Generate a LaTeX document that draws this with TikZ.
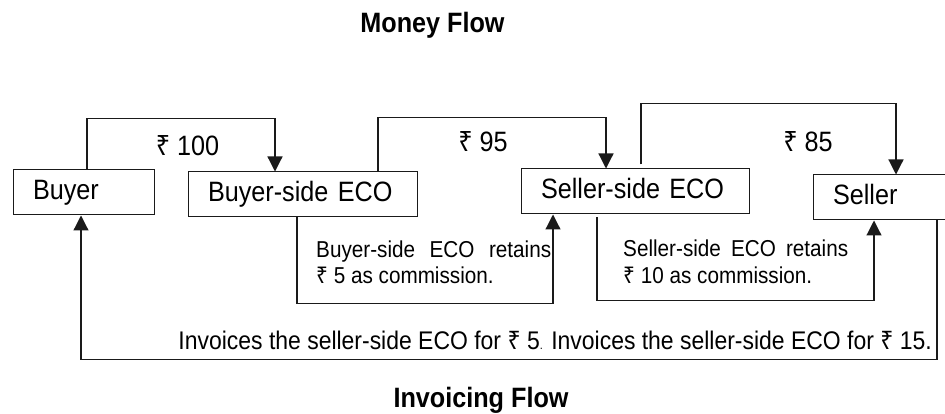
\documentclass[tikz,border=0pt]{standalone}
\usepackage{fontspec}
\setmainfont[FakeStretch=0.9]{Liberation Sans}
\newfontfamily\rupeefont[FakeStretch=0.9]{Noto Sans}
\newcommand{\rupee}{{\rupeefont ₹}}
\usetikzlibrary{arrows.meta}
\definecolor{ink}{HTML}{1A1A1A}
\tikzset{
  party-box/.style={draw=ink, line width=1pt, rectangle, inner xsep=20pt, inner ysep=0pt,
    minimum height=45pt, text height=20pt, text depth=6pt, align=left,
    font=\fontsize{28}{32}\selectfont},
  amount-label/.style={inner sep=0pt, font=\fontsize{28}{32}\selectfont},
  note-text/.style={anchor=base west, inner sep=0pt, align=justify,
    font=\fontsize{23}{27}\selectfont},
  flow-path/.style={draw=ink, line width=1.2pt, -{Triangle[length=15pt, width=15pt]}},
  flow-title/.style={anchor=base, inner sep=0pt, font=\fontsize{28}{32}\selectfont\bfseries},
}

\begin{document}
\begin{tikzpicture}[x=1pt, y=-1pt]
\useasboundingbox (0, 0) rectangle (945, 414);
\node[flow-title] at (432.5, 33) (money title) {Money Flow};
\node[party-box, text width=101pt] at (83.5, 192.5) (buyer) {Buyer};
\node[party-box, text width=189pt] at (302.5, 194.5) (buyer eco) {Buyer-side ECO};
\node[party-box, text width=188pt] at (635, 191.5) (seller eco) {Seller-side ECO};
\node[party-box, text width=126pt] at (896, 197.5) (seller) {Seller};
\node[amount-label] at (187.5, 146) (paid 100) {\rupee\ 100};
\node[amount-label] at (483, 142) (paid 95) {\rupee\ 95};
\node[amount-label] at (808, 142) (paid 85) {\rupee\ 85};
\node[note-text, text width=235pt] at (316, 257) (buyer cut)
  {Buyer-side ECO retains\linebreak \rupee\ 5 as commission.};
\node[note-text, text width=225pt] at (623, 256) (seller cut)
  {Seller-side ECO retains\linebreak \rupee\ 10 as commission.};
\node[anchor=base east, inner sep=0pt, font=\fontsize{25.5}{30}\selectfont] at (932, 349) (invoice note)
  {Invoices the seller-side ECO for \rupee\ 5{\fontsize{12}{12}\selectfont.} Invoices the seller-side ECO for \rupee\ 15.};
\node[flow-title] at (481, 407) (invoice title) {Invoicing Flow};
\draw[flow-path] ([xshift=3.5pt]buyer.north) -- ++(0, -51) -| ([xshift=-27.5pt]buyer eco.north);
\draw[flow-path] ([xshift=75.5pt]buyer eco.north) -- ++(0, -54) -| ([xshift=-29pt]seller eco.north);
\draw[flow-path] ([xshift=6pt, yshift=4pt]seller eco.north) -- ++(0, -61) -| (seller.north);
\draw[flow-path] ([xshift=-5.5pt]buyer eco.south) -- ++(0, 86) -| ([xshift=-82pt]seller eco.south);
\draw[flow-path] ([xshift=-38pt, yshift=-3pt]seller eco.south) -- ++(0, 83) -| ([xshift=-22pt]seller.south);
\draw[flow-path] ([xshift=41pt]seller.south) -- ++(0, 139) -| ([xshift=-2.5pt]buyer.south);
\end{tikzpicture}
\end{document}
